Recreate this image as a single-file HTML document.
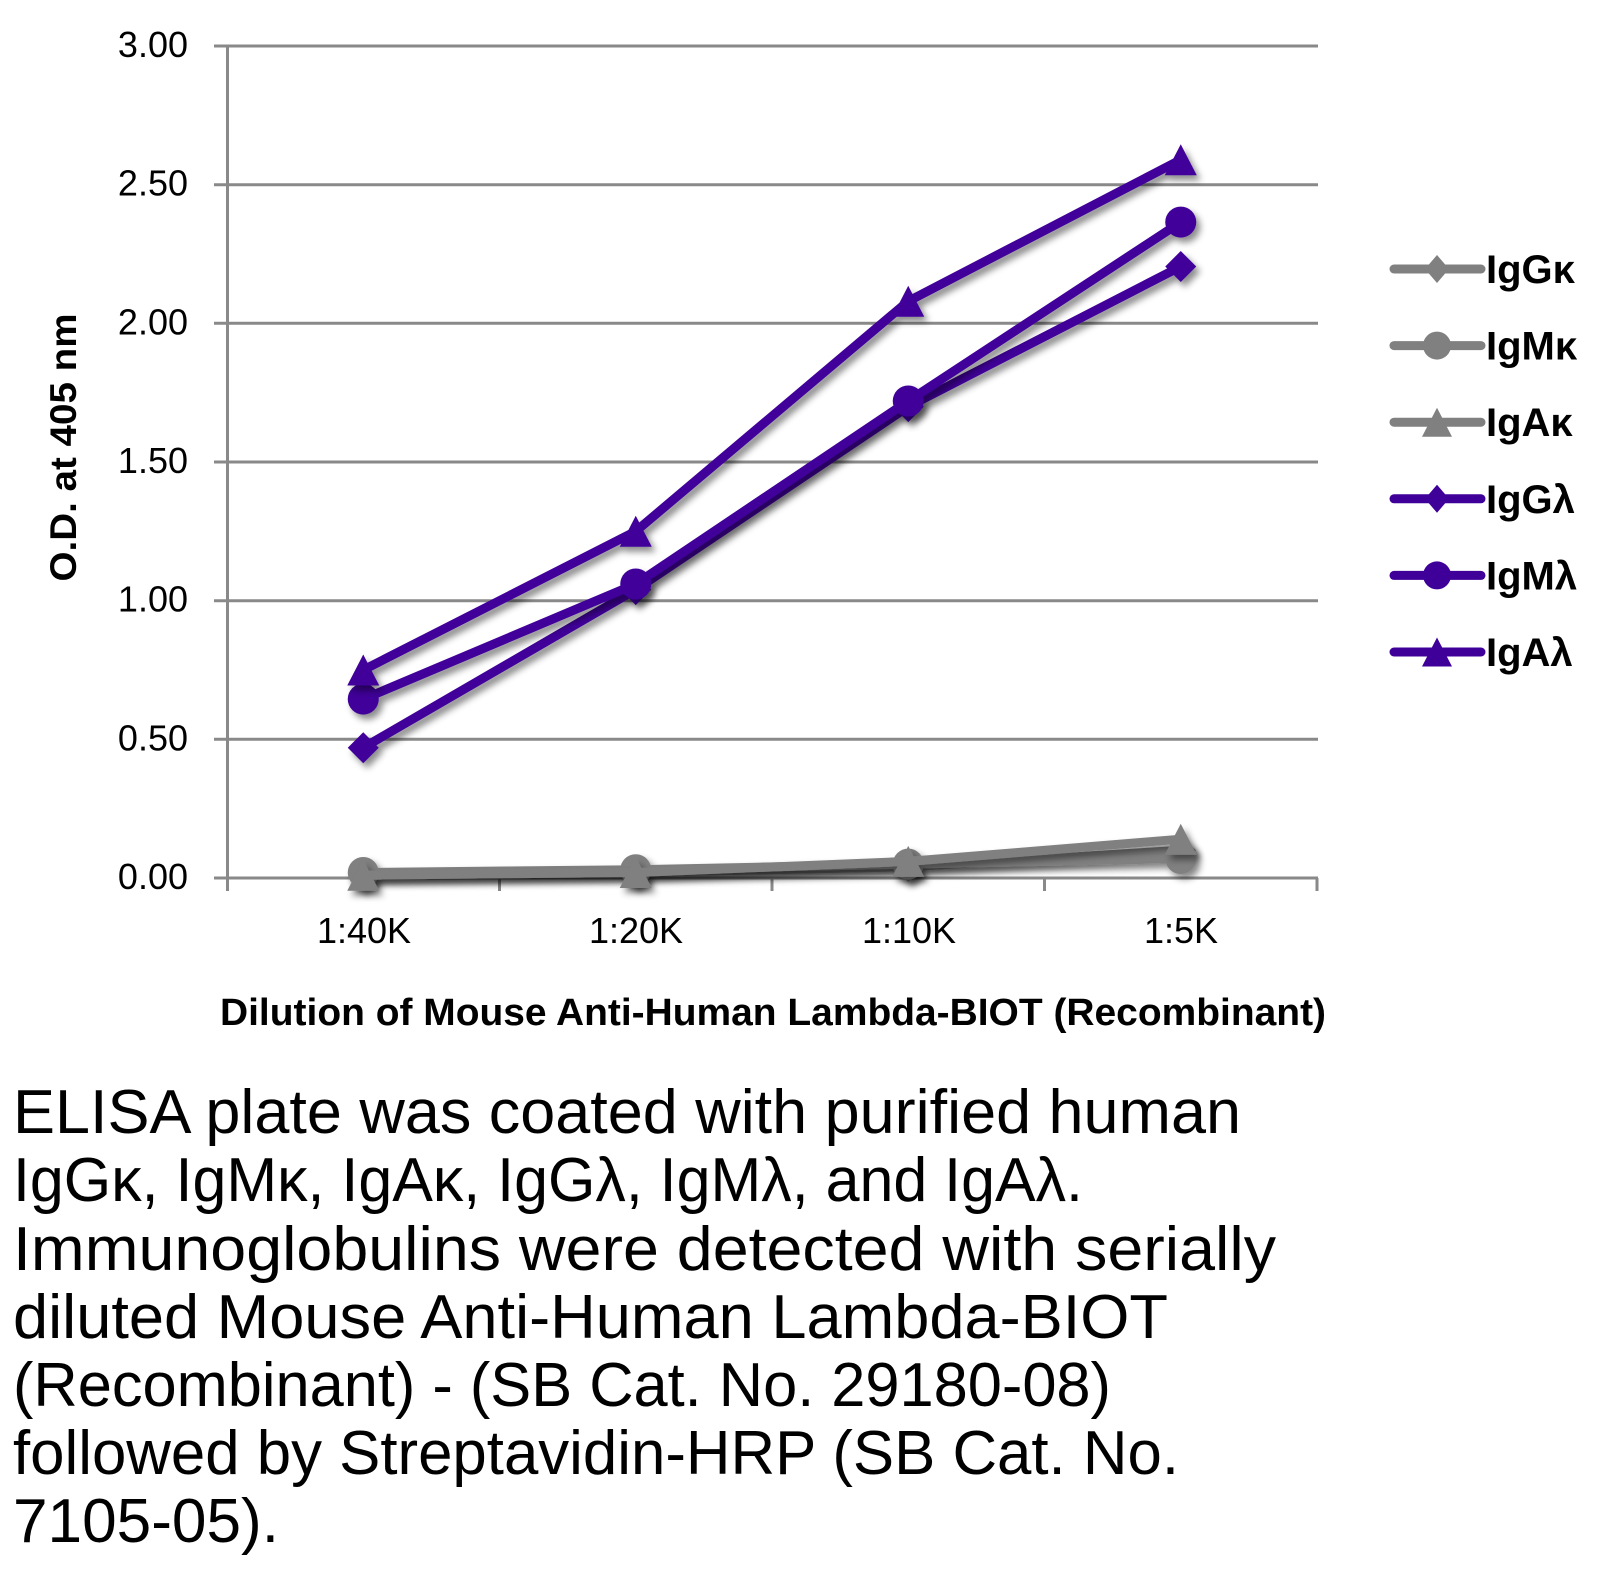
<!DOCTYPE html>
<html>
<head>
<meta charset="utf-8">
<style>
  html, body { margin:0; padding:0; background:#fff; }
  svg { display:block; }
  text { font-family: "Liberation Sans", "DejaVu Sans", sans-serif; fill:#000; }
</style>
</head>
<body>
<svg width="1608" height="1574" viewBox="0 0 1608 1574" xmlns="http://www.w3.org/2000/svg">
  <defs>
    <filter id="sh" filterUnits="userSpaceOnUse" x="0" y="0" width="1608" height="1000">
      <feDropShadow dx="4" dy="5" stdDeviation="3.5" flood-color="#000" flood-opacity="0.45"/>
    </filter>
  </defs>
  <rect width="1608" height="1574" fill="#fff"/>

  <!-- gridlines -->
  <g stroke="#898989" stroke-width="3" fill="none">
    <line x1="214" y1="46" x2="1318" y2="46"/>
    <line x1="214" y1="184.7" x2="1318" y2="184.7"/>
    <line x1="214" y1="323.3" x2="1318" y2="323.3"/>
    <line x1="214" y1="462" x2="1318" y2="462"/>
    <line x1="214" y1="600.7" x2="1318" y2="600.7"/>
    <line x1="214" y1="739.3" x2="1318" y2="739.3"/>
    <line x1="214" y1="878" x2="1318" y2="878"/>
    <line x1="227.5" y1="46" x2="227.5" y2="891"/>
    <line x1="499.5" y1="878" x2="499.5" y2="891"/>
    <line x1="772" y1="878" x2="772" y2="891"/>
    <line x1="1044.5" y1="878" x2="1044.5" y2="891"/>
    <line x1="1317" y1="878" x2="1317" y2="891"/>
  </g>

  <!-- y tick labels -->
  <g font-size="36" text-anchor="end">
    <text x="188" y="57">3.00</text>
    <text x="188" y="195.7">2.50</text>
    <text x="188" y="334.3">2.00</text>
    <text x="188" y="473">1.50</text>
    <text x="188" y="611.7">1.00</text>
    <text x="188" y="750.3">0.50</text>
    <text x="188" y="889">0.00</text>
  </g>

  <!-- x tick labels -->
  <g font-size="36" text-anchor="middle">
    <text x="364" y="943">1:40K</text>
    <text x="636" y="943">1:20K</text>
    <text x="909" y="943">1:10K</text>
    <text x="1181" y="943">1:5K</text>
  </g>

  <!-- axis titles -->
  <text x="220" y="1025" font-size="38" font-weight="bold" textLength="1106" lengthAdjust="spacingAndGlyphs">Dilution of Mouse Anti-Human Lambda-BIOT (Recombinant)</text>
  <text transform="translate(76,447.5) rotate(-90)" text-anchor="middle" font-size="37" font-weight="bold" textLength="268" lengthAdjust="spacingAndGlyphs">O.D. at 405 nm</text>

  <!-- gray series -->
  <g filter="url(#sh)" fill="#808080" stroke="#808080">
    <polyline points="363.25,875.2 635.75,872.5 908.25,866.9 1180.75,850.3" fill="none" stroke-width="9" stroke-linejoin="round" stroke-linecap="round"/>
    <g stroke="none">
      <polygon points="363.25,860 378.5,875.2 363.25,890.4 348,875.2"/>
      <polygon points="635.75,857.3 651,872.5 635.75,887.7 620.5,872.5"/>
      <polygon points="908.25,851.7 923.5,866.9 908.25,882.1 893,866.9"/>
      <polygon points="1180.75,835.1 1196,850.3 1180.75,865.5 1165.5,850.3"/>
    </g>
  </g>
  <g filter="url(#sh)" fill="#808080" stroke="#808080">
    <polyline points="363.25,872.5 635.75,869.7 908.25,864.1 1180.75,858.6" fill="none" stroke-width="9" stroke-linejoin="round" stroke-linecap="round"/>
    <g stroke="none">
      <circle cx="363.25" cy="872.5" r="15.5"/>
      <circle cx="635.75" cy="869.7" r="15.5"/>
      <circle cx="908.25" cy="864.1" r="15.5"/>
      <circle cx="1180.75" cy="858.6" r="15.5"/>
    </g>
  </g>
  <g filter="url(#sh)" fill="#808080" stroke="#808080">
    <polyline points="363.25,875.2 635.75,872.5 908.25,861.4 1180.75,839.2" fill="none" stroke-width="9" stroke-linejoin="round" stroke-linecap="round"/>
    <g stroke="none">
      <polygon points="363.25,859.7 379.25,890.7 347.25,890.7"/>
      <polygon points="635.75,857 651.75,888 619.75,888"/>
      <polygon points="908.25,845.9 924.25,876.9 892.25,876.9"/>
      <polygon points="1180.75,823.7 1196.75,854.7 1164.75,854.7"/>
    </g>
  </g>

  <!-- purple series -->
  <g filter="url(#sh)" fill="#3f0099" stroke="#3f0099">
    <polyline points="363.25,747.7 635.75,589.6 908.25,406.6 1180.75,266.5" fill="none" stroke-width="9" stroke-linejoin="round" stroke-linecap="round"/>
    <g stroke="none">
      <polygon points="363.25,732.2 378.75,747.7 363.25,763.2 347.75,747.7"/>
      <polygon points="635.75,574.1 651.25,589.6 635.75,605.1 620.25,589.6"/>
      <polygon points="908.25,391.1 923.75,406.6 908.25,422.1 892.75,406.6"/>
      <polygon points="1180.75,251 1196.25,266.5 1180.75,282 1165.25,266.5"/>
    </g>
  </g>
  <g filter="url(#sh)" fill="#3f0099" stroke="#3f0099">
    <polyline points="363.25,699.1 635.75,584 908.25,401 1180.75,222.1" fill="none" stroke-width="9" stroke-linejoin="round" stroke-linecap="round"/>
    <g stroke="none">
      <circle cx="363.25" cy="699.1" r="15.5"/>
      <circle cx="635.75" cy="584" r="15.5"/>
      <circle cx="908.25" cy="401" r="15.5"/>
      <circle cx="1180.75" cy="222.1" r="15.5"/>
    </g>
  </g>
  <g filter="url(#sh)" fill="#3f0099" stroke="#3f0099">
    <polyline points="363.25,670 635.75,531.3 908.25,301.2 1180.75,159.7" fill="none" stroke-width="9" stroke-linejoin="round" stroke-linecap="round"/>
    <g stroke="none">
      <polygon points="363.25,654.5 379.25,685.5 347.25,685.5"/>
      <polygon points="635.75,515.8 651.75,546.8 619.75,546.8"/>
      <polygon points="908.25,285.7 924.25,316.7 892.25,316.7"/>
      <polygon points="1180.75,144.2 1196.75,175.2 1164.75,175.2"/>
    </g>
  </g>

  <!-- legend -->
  <g stroke-width="9" stroke-linecap="round">
    <line x1="1394" y1="269" x2="1481" y2="269" stroke="#808080"/>
    <polygon points="1437,255 1449,269 1437,283 1425,269" fill="#808080"/>
    <line x1="1394" y1="345.6" x2="1481" y2="345.6" stroke="#808080"/>
    <circle cx="1437" cy="345.6" r="14" fill="#808080"/>
    <line x1="1394" y1="422.2" x2="1481" y2="422.2" stroke="#808080"/>
    <polygon points="1437,407.7 1452,436.7 1422,436.7" fill="#808080"/>
    <line x1="1394" y1="498.8" x2="1481" y2="498.8" stroke="#3f0099"/>
    <polygon points="1437,484.8 1449,498.8 1437,512.8 1425,498.8" fill="#3f0099"/>
    <line x1="1394" y1="575.4" x2="1481" y2="575.4" stroke="#3f0099"/>
    <circle cx="1437" cy="575.4" r="14" fill="#3f0099"/>
    <line x1="1394" y1="652" x2="1481" y2="652" stroke="#3f0099"/>
    <polygon points="1437,637.5 1452,666.5 1422,666.5" fill="#3f0099"/>
  </g>
  <g font-size="40" font-weight="bold">
    <text x="1486" y="283">IgGκ</text>
    <text x="1486" y="359.6">IgMκ</text>
    <text x="1486" y="436.2">IgAκ</text>
    <text x="1486" y="512.8">IgGλ</text>
    <text x="1486" y="589.4">IgMλ</text>
    <text x="1486" y="666">IgAλ</text>
  </g>

  <!-- caption -->
  <g font-size="62">
    <text x="13" y="1133" textLength="1228" lengthAdjust="spacingAndGlyphs">ELISA plate was coated with purified human</text>
    <text x="13" y="1201" textLength="1070" lengthAdjust="spacingAndGlyphs">IgGκ, IgMκ, IgAκ, IgGλ, IgMλ, and IgAλ.</text>
    <text x="13" y="1270" textLength="1263" lengthAdjust="spacingAndGlyphs">Immunoglobulins were detected with serially</text>
    <text x="13" y="1338" textLength="1155" lengthAdjust="spacingAndGlyphs">diluted Mouse Anti-Human Lambda-BIOT</text>
    <text x="13" y="1406" textLength="1098" lengthAdjust="spacingAndGlyphs">(Recombinant) - (SB Cat. No. 29180-08)</text>
    <text x="13" y="1474" textLength="1166" lengthAdjust="spacingAndGlyphs">followed by Streptavidin-HRP (SB Cat. No.</text>
    <text x="13" y="1542" textLength="266" lengthAdjust="spacingAndGlyphs">7105-05).</text>
  </g>
</svg>
</body>
</html>
